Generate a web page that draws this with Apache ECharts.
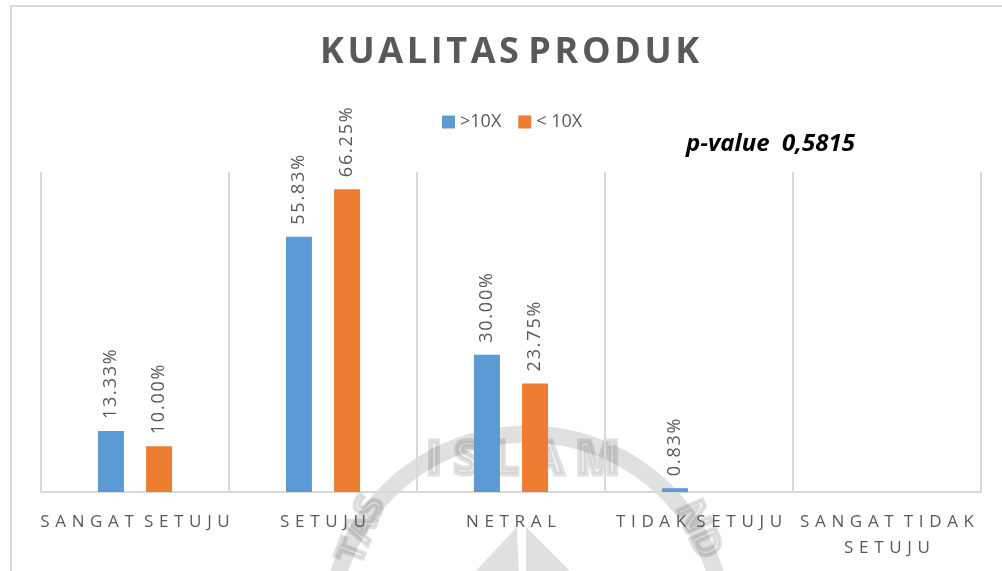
<!DOCTYPE html>
<html>
<head>
<meta charset="utf-8">
<title>Kualitas Produk</title>
<script src="https://cdn.jsdelivr.net/npm/echarts@6/dist/echarts.min.js"></script>
<style>
  html, body { margin: 0; padding: 0; background: #ffffff; }
  #chart { width: 1002px; height: 571px; }
</style>
</head>
<body>
<div id="chart"></div>
<script>
// Response categories (x axis)
const categories = ['SANGAT SETUJU', 'SETUJU', 'NETRAL', 'TIDAK SETUJU', 'SANGAT TIDAK SETUJU'];
// Series names
const seriesNames = ['>10X', '< 10X'];
// Percent of respondents per category
const moreThan10 = [13.33, 55.83, 30.00, 0.83, 0];
const lessThan10 = [10.00, 66.25, 23.75, 0, 0];
// Chart texts
const chartTitle = 'KUALITAS PRODUK';
const pValueText = 'p-value  0,5815';

// Spread letters apart with narrow spaces; words get a wider gap
function spread(str, gap, wordGap) {
  return str.split(' ').map(w => w.split('').join(gap)).join(wordGap);
}

const GREY = '#595959';
const FONT = '"Open Sans", "DejaVu Sans", sans-serif';

const chart = echarts.init(document.getElementById('chart'));

const barLabel = {
  show: true,
  position: 'top',
  rotate: 90,
  align: 'left',
  verticalAlign: 'middle',
  distance: 12,
  color: GREY,
  fontFamily: FONT,
  fontSize: 18,
  formatter: p => (p.value > 0 ? spread(p.value.toFixed(2) + '%', '\u200A', ' ') : '')
};

chart.setOption({
  animation: false,
  backgroundColor: '#ffffff',
  color: ['#5b9bd5', '#ed7d31'],
  title: {
    text: spread(chartTitle, '\u200A', ' '),
    left: 315,
    top: 30,
    textStyle: { color: GREY, fontFamily: FONT, fontSize: 36, fontWeight: 'bold' }
  },
  legend: {
    data: seriesNames,
    left: 437,
    top: 108,
    icon: 'rect',
    itemWidth: 13,
    itemHeight: 13,
    itemGap: 17,
    textStyle: { color: GREY, fontFamily: FONT, fontSize: 18 }
  },
  grid: { left: 41, right: 21, top: 172, bottom: 79, containLabel: false },
  xAxis: {
    type: 'category',
    data: categories,
    boundaryGap: true,
    axisLine: { show: true, lineStyle: { color: '#d9d9d9', width: 2 } },
    axisTick: { show: false },
    splitLine: { show: true, showMinLine: true, showMaxLine: true, lineStyle: { color: '#d9d9d9', width: 2 } },
    axisLabel: {
      interval: 0,
      margin: 17,
      color: GREY,
      fontFamily: FONT,
      fontSize: 17,
      lineHeight: 26,
      formatter: v => {
        const words = v.split(' ');
        let lines = [v];
        if (v.length > 13) {
          lines = [words.slice(0, -1).join(' '), words[words.length - 1]];
        }
        return lines.map(l => spread(l, '\u2004', '\u2004 ')).join('\n');
      }
    }
  },
  yAxis: {
    type: 'value',
    min: 0,
    max: 70,
    show: false,
    splitLine: { show: false }
  },
  series: [
    {
      name: seriesNames[0],
      type: 'bar',
      data: moreThan10,
      barWidth: 26,
      barGap: '85%',
      label: barLabel
    },
    {
      name: seriesNames[1],
      type: 'bar',
      data: lessThan10,
      barWidth: 26,
      barGap: '85%',
      label: barLabel
    }
  ],
  graphic: [
    // outer frame of the chart area
    {
      type: 'rect',
      shape: { x: 11, y: 6, width: 1100, height: 700 },
      style: { fill: 'none', stroke: '#d9d9d9', lineWidth: 2 },
      silent: true
    },
    // p-value note
    {
      type: 'text',
      left: 686,
      top: 132,
      style: {
        text: pValueText,
        fill: '#000000',
        font: 'italic bold 24px ' + FONT
      }
    },
    // faint seal stamped across the lower plot
    {
      type: 'group',
      silent: true,
      z: 100,
      children: [
        {
          type: 'rect',
          shape: { x: 255, y: 409, width: 540, height: 170 },
          style: { fill: 'rgba(255,255,255,0.14)' }
        },
        {
          type: 'circle',
          shape: { cx: 527, cy: 631, r: 197 },
          style: { fill: 'none', stroke: 'rgba(0,0,0,0.12)', lineWidth: 17 }
        },
        {
          type: 'text',
          x: 523,
          y: 461,
          style: {
            text: 'I S L A M',
            fill: 'rgba(0,0,0,0.04)',
            stroke: 'rgba(0,0,0,0.12)',
            lineWidth: 5,
            font: 'bold 47px ' + FONT,
            align: 'center',
            verticalAlign: 'middle'
          }
        },
        {
          type: 'text',
          x: 362,
          y: 530,
          rotation: 1.2,
          style: {
            text: 'TAS',
            fill: 'rgba(0,0,0,0.04)',
            stroke: 'rgba(0,0,0,0.12)',
            lineWidth: 4,
            font: 'bold 38px ' + FONT,
            align: 'center',
            verticalAlign: 'middle'
          }
        },
        {
          type: 'text',
          x: 698,
          y: 530,
          rotation: -1.15,
          style: {
            text: 'ND',
            fill: 'rgba(0,0,0,0.04)',
            stroke: 'rgba(0,0,0,0.12)',
            lineWidth: 4,
            font: 'bold 38px ' + FONT,
            align: 'center',
            verticalAlign: 'middle'
          }
        },
        {
          type: 'polygon',
          shape: { points: [[472, 575], [517, 527], [519, 575]] },
          style: { fill: 'rgba(0,0,0,0.12)' }
        },
        {
          type: 'polygon',
          shape: { points: [[526, 575], [526, 527], [574, 575]] },
          style: { fill: 'rgba(0,0,0,0.12)' }
        }
      ]
    }
  ]
});
</script>
</body>
</html>
